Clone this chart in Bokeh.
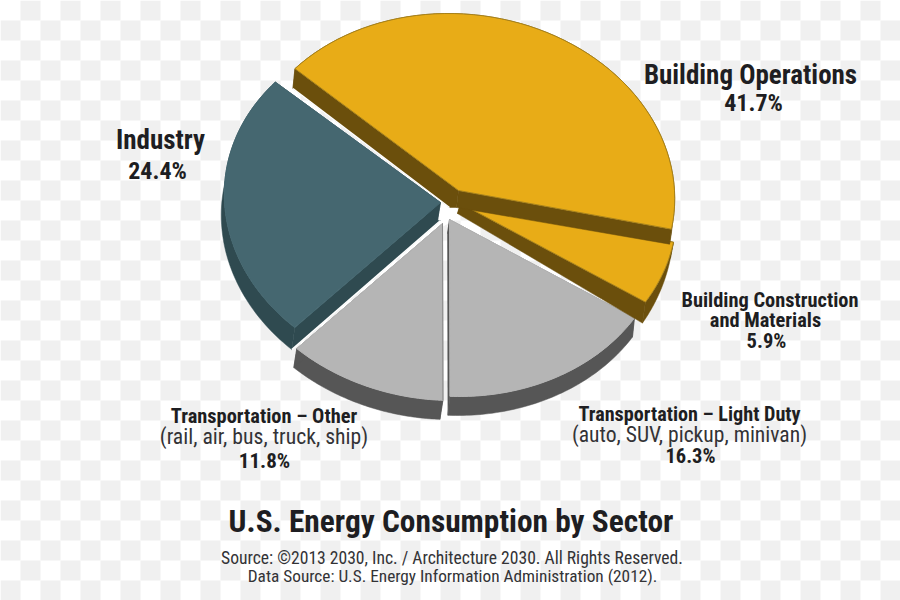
from bokeh.plotting import figure
from bokeh.models import Range1d
from bokeh.core.properties import value
from bokeh.embed import file_html
from bokeh.resources import INLINE
import numpy as np

sectors = ["Industry", "Transportation – Other", "Transportation – Light Duty", "Building Construction and Materials", "Building Operations"]
shares = [24.4, 11.8, 16.3, 5.9, 41.7]
top_colors = ["#456770", "#b5b5b5", "#b5b5b5", "#e8ac17", "#e8ac17"]
side_colors = ["#2f4a50", "#565656", "#565656", "#6b4f0c", "#6b4f0c"]
tips_x = [440, 442, 449, 460, 458]
tips_y = [202, 223, 219, 203, 190]
# sideways shift, extra shift of the tip on the first cut, depth at the tip, depth along the rim
shift_x = [-3, -3, -2, -3, -2]
first_tip_shift = [0, 0, 0, 0, -9]
depth_tip = [18, 14, 14, 10, 17]
depth_rim_a = [22, 19, 19, 16, 20]
depth_rim_b = [20, 19, 19, 21, 15]
radius_x, radius_y, skew = 216, 177, -10
pie_top_angle = 137.5
operations_start_nudge = -1

label_text = ["Building Operations", "41.7%", "Industry", "24.4%", "Building Construction", "and Materials", "5.9%",
              "Transportation – Light Duty", "(auto, SUV, pickup, minivan)", "16.3%",
              "Transportation – Other", "(rail, air, bus, truck, ship)", "11.8%",
              "U.S. Energy Consumption by Sector",
              "Source: ©2013 2030, Inc. / Architecture 2030. All Rights Reserved.",
              "Data Source: U.S. Energy Information Administration (2012)."]
label_x = [750, 753, 160, 157, 769.5, 765, 766, 689, 689, 690, 263.5, 263.5, 264, 450.5, 451.5, 452]
label_y = [74, 102, 139, 170, 299, 319, 340, 413, 434, 455, 415, 436, 460, 521, 557, 575]
label_size = [27, 24, 27, 24, 20.4, 20.4, 20.5, 20.2, 21.6, 20.5, 20.4, 21.7, 21, 31.4, 17.6, 17.3]
label_bold = [1, 1, 1, 1, 1, 1, 1, 1, 0, 1, 1, 0, 1, 1, 0, 0]
label_color = ["#1e1e22" if b else "#333336" for b in label_bold]
FONT = "Roboto Condensed"

p = figure(width=900, height=600, x_range=Range1d(0, 900), y_range=Range1d(600, 0),
           output_backend="svg", toolbar_location=None, min_border=0)
p.axis.visible = False
p.grid.visible = False
p.outline_line_color = None
p.background_fill_color = "white"
p.border_fill_color = "white"

# backdrop squares
cell = 20
cx, cy = [], []
for i in range(0, 46):
    for j in range(0, 31):
        if (i + j) % 2 == 1:
            cx.append(i * cell + cell / 2)
            cy.append(j * cell + cell / 2)
p.rect(cx, cy, cell, cell, fill_color="#f0f0f0", line_color=None)

# hub
p.patch(tips_x, tips_y, fill_color="white", line_color="white", line_width=6)

# angles run clockwise from the top-left cut through Operations, Construction, Light Duty, Other, Industry
clockwise = [4, 3, 2, 1, 0]
angles = {}
a = pie_top_angle
for k in clockwise:
    b = a - shares[k] * 3.6
    angles[k] = (a + (operations_start_nudge if k == 4 else 0), b)
    a = b

for k in range(len(shares)):
    a0, a1 = angles[k]
    t = np.radians(np.linspace(a0, a1, 60))
    ax = tips_x[k] + radius_x * np.cos(t) + skew * np.sin(t)
    ay = tips_y[k] - radius_y * np.sin(t)
    tx, ty = tips_x[k], tips_y[k]
    bx, by = ax + shift_x[k], ay + np.linspace(depth_rim_a[k], depth_rim_b[k], 60)
    btx, bty = tx + shift_x[k], ty + depth_tip[k]
    ftx = tx + first_tip_shift[k]
    # rim side
    p.patch(list(ax) + list(bx[::-1]), list(ay) + list(by[::-1]),
            fill_color=side_colors[k], line_color=side_colors[k], line_width=0.5)
    # the two cut faces
    p.patch([tx, ax[0], bx[0], ftx, btx], [ty, ay[0], by[0], bty, bty],
            fill_color=side_colors[k], line_color=side_colors[k], line_width=0.5)
    p.patch([tx, ax[-1], bx[-1], btx], [ty, ay[-1], by[-1], bty],
            fill_color=side_colors[k], line_color=side_colors[k], line_width=0.5)
    if k in (0, 4):
        p.line([ftx, bx[0]], [bty, by[0]], line_color="white", line_width=1.5)
    # top
    p.patch([tx] + list(ax), [ty] + list(ay), fill_color=top_colors[k],
            line_color="#a8821a" if k >= 3 else top_colors[k], line_width=1)
    if k == 1:
        p.line([tx, ax[0]], [ty, ay[0]], line_color="#8a8a8a", line_width=1)

for t, x, y, s, b, c in zip(label_text, label_x, label_y, label_size, label_bold, label_color):
    p.text([x], [y], text=[t], text_align="center", text_baseline="middle", text_color=c,
           text_font=value(FONT), text_font_size=f"{s}px", text_font_style="bold" if b else "normal")

open("out.html", "w").write(file_html(p, INLINE))
